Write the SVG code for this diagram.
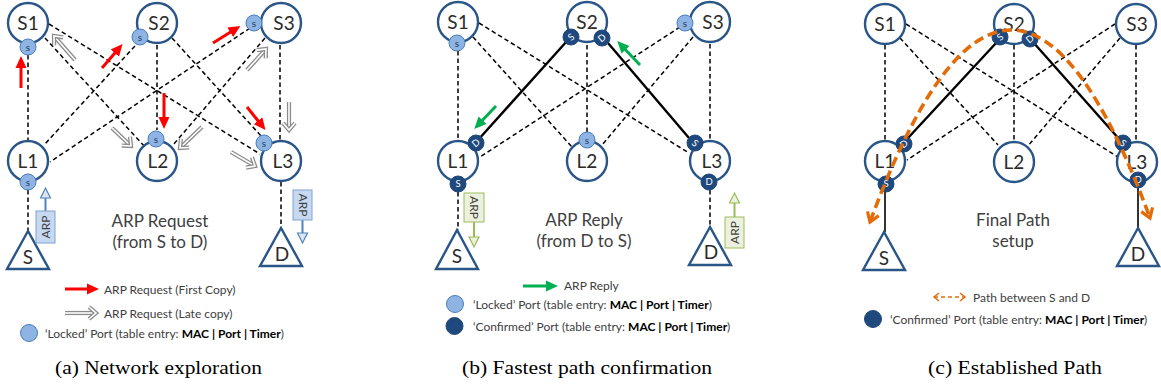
<svg xmlns="http://www.w3.org/2000/svg" width="1161" height="388" viewBox="0 0 1161 388">
  <style>
    .node circle.sw { fill: #fff; stroke: #2a5587; stroke-width: 2.4; }
    .tri { fill: #fff; stroke: #2a5587; stroke-width: 2.4; stroke-linejoin: miter; }
    .nl { font-family: Lato, "Open Sans", sans-serif; font-size: 19px; fill: #2b2b2b; text-anchor: middle; }
    .dash { fill: none; stroke: #000; stroke-width: 1.5; stroke-dasharray: 4.5 3; }
    .solid { fill: none; stroke: #000; stroke-width: 2.4; }
    .thin { fill: none; stroke: #000; stroke-width: 1.6; }
    .pl { fill: #8db4e2; stroke: #4a7ebb; stroke-width: 1; }
    .pd { fill: #1f497d; stroke: #1f497d; stroke-width: 1; }
    .plt { font-family: Lato, sans-serif; font-size: 10px; fill: #1f3a5f; text-anchor: middle; }
    .pdt { font-family: Lato, sans-serif; font-size: 9.5px; fill: #fff; text-anchor: middle; }
    .cap { font-family: Lato, "Open Sans", sans-serif; font-size: 17px; fill: #404040; text-anchor: middle; }
    .leg { font-family: Lato, "Open Sans", sans-serif; font-size: 12px; fill: #404040; }
    .leg tspan.b { font-weight: bold; fill: #000; }
    .red { fill: none; stroke: #ff0000; stroke-width: 3; marker-end: url(#hRed); }
    .grn { fill: none; stroke: #00b050; stroke-width: 3; marker-end: url(#hGrn); }
    .go { fill: none; stroke: #8c8c8c; stroke-width: 4.2; }
    .gi { fill: none; stroke: #fff; stroke-width: 1.6; marker-end: url(#hGray); }
    .bbox { fill: #c6d9f1; stroke: #7fa3d0; stroke-width: 1; }
    .bar { fill: none; stroke: #4f81bd; stroke-width: 2; }
    .bhd { fill: #dbe5f1; stroke: #4f81bd; stroke-width: 1.2; }
    .gbox { fill: #ebf1de; stroke: #9bbb59; stroke-width: 1; }
    .gar { fill: none; stroke: #9bbb59; stroke-width: 2; }
    .ghd { fill: #ebf1de; stroke: #9bbb59; stroke-width: 1.2; }
    .arp { font-family: Lato, sans-serif; font-size: 12px; fill: #404040; text-anchor: middle; }
    .orng { fill: none; stroke: #e36c09; stroke-width: 3.6; stroke-dasharray: 10 5; marker-start: url(#hOrS); marker-end: url(#hOr); }
    .orl { fill: none; stroke: #e36c09; stroke-width: 1.5; stroke-dasharray: 4 3; marker-start: url(#hOrLS); marker-end: url(#hOrL); }
    .fig { font-family: "Liberation Serif", "Times New Roman", serif; font-size: 19px; fill: #000; }
  </style>
  <defs>
    <marker id="hRed" markerUnits="userSpaceOnUse" markerWidth="13" markerHeight="13" viewBox="0 0 13 13" refX="8" refY="6.5" orient="auto">
      <path d="M0,1 L12,6.5 L0,12 Z" fill="#ff0000"/>
    </marker>
    <marker id="hGrn" markerUnits="userSpaceOnUse" markerWidth="13" markerHeight="13" viewBox="0 0 13 13" refX="8" refY="6.5" orient="auto">
      <path d="M0,1 L12,6.5 L0,12 Z" fill="#00b050"/>
    </marker>
    <marker id="hGray" markerUnits="userSpaceOnUse" markerWidth="16" markerHeight="16" viewBox="0 0 16 16" refX="12" refY="8" orient="auto">
      <path d="M5,2 L12,8 L5,14" fill="none" stroke="#8c8c8c" stroke-width="4.2"/>
      <path d="M5,2 L12,8 L5,14" fill="none" stroke="#fff" stroke-width="1.6"/>
    </marker>
    <marker id="hOr" markerUnits="userSpaceOnUse" markerWidth="16" markerHeight="16" viewBox="0 0 16 16" refX="12" refY="8" orient="auto">
      <path d="M3,2 L12,8 L3,14" fill="none" stroke="#e36c09" stroke-width="3.2"/>
    </marker>
    <marker id="hOrS" markerUnits="userSpaceOnUse" markerWidth="16" markerHeight="16" viewBox="0 0 16 16" refX="12" refY="8" orient="auto-start-reverse">
      <path d="M3,2 L12,8 L3,14" fill="none" stroke="#e36c09" stroke-width="3.2"/>
    </marker>
    <marker id="hOrL" markerUnits="userSpaceOnUse" markerWidth="10" markerHeight="10" viewBox="0 0 10 10" refX="8" refY="5" orient="auto">
      <path d="M3,1 L8,5 L3,9" fill="none" stroke="#e36c09" stroke-width="1.5"/>
    </marker>
    <marker id="hOrLS" markerUnits="userSpaceOnUse" markerWidth="10" markerHeight="10" viewBox="0 0 10 10" refX="8" refY="5" orient="auto-start-reverse">
      <path d="M3,1 L8,5 L3,9" fill="none" stroke="#e36c09" stroke-width="1.5"/>
    </marker>
  </defs>

  <!-- ===================== (a) Network exploration ===================== -->
  <g id="panel-a">
    <g id="a-links">
      <path class="dash" d="M28,55 V140"/>
      <path class="dash" d="M45,38 L145,147"/>
      <path class="dash" d="M49,24 L260,154"/>
      <path class="dash" d="M135,46 L44,145"/>
      <path class="dash" d="M157,45 V130"/>
      <path class="dash" d="M172,38 L262,137"/>
      <path class="dash" d="M250,28 L50,162"/>
      <path class="dash" d="M265,38 L173,145"/>
      <path class="dash" d="M280,45 V140"/>
      <path class="dash" d="M28,190 V231"/>
      <path class="dash" d="M281,182 V228"/>
    </g>
    <g id="a-S1" class="node"><circle class="sw" cx="28" cy="23" r="20"/><text class="nl" x="28" y="30">S1</text></g>
    <g id="a-S2" class="node"><circle class="sw" cx="157" cy="23" r="20"/><text class="nl" x="159" y="30">S2</text></g>
    <g id="a-S3" class="node"><circle class="sw" cx="281" cy="23" r="20"/><text class="nl" x="284" y="30">S3</text></g>
    <g id="a-L1" class="node"><circle class="sw" cx="28" cy="161" r="20"/><text class="nl" x="28" y="168">L1</text></g>
    <g id="a-L2" class="node"><circle class="sw" cx="157" cy="161" r="20"/><text class="nl" x="158" y="168">L2</text></g>
    <g id="a-L3" class="node"><circle class="sw" cx="281" cy="161" r="20"/><text class="nl" x="283" y="168">L3</text></g>
    <g id="a-S" class="node"><path class="tri" d="M28,231 L7,269 L49,269 Z"/><text class="nl" x="28" y="264">S</text></g>
    <g id="a-D" class="node"><path class="tri" d="M281,228 L260,266 L302,266 Z"/><text class="nl" x="282" y="261">D</text></g>
    <g id="a-ports">
      <circle class="pl" cx="28" cy="47" r="8"/><text class="plt" x="28" y="50.5">s</text>
      <circle class="pl" cx="140" cy="37" r="8"/><text class="plt" x="140" y="40.5">s</text>
      <circle class="pl" cx="254" cy="23" r="8"/><text class="plt" x="254" y="26.5">s</text>
      <circle class="pl" cx="28" cy="182" r="8"/><text class="plt" x="28" y="185.5">s</text>
      <circle class="pl" cx="156" cy="139" r="8"/><text class="plt" x="156" y="142.5">s</text>
      <circle class="pl" cx="264" cy="143" r="8"/><text class="plt" x="264" y="146.5">s</text>
    </g>
    <g id="a-flow">
      <path class="red" d="M21,88 L21,60"/>
      <path class="red" d="M102,68 L120,47"/>
      <path class="red" d="M213,43 L237,28"/>
      <path class="red" d="M164,93 L164,125"/>
      <path class="red" d="M247,107 L263,127"/>
      <path class="go" d="M75,60 L54,36"/><path class="gi" d="M75,60 L54,36"/>
      <path class="go" d="M112,128 L131,146"/><path class="gi" d="M112,128 L131,146"/>
      <path class="go" d="M202,127 L180,148"/><path class="gi" d="M202,127 L180,148"/>
      <path class="go" d="M247,70 L266,49"/><path class="gi" d="M247,70 L266,49"/>
      <path class="go" d="M231,152 L255,166"/><path class="gi" d="M231,152 L255,166"/>
      <path class="go" d="M289,102 L289,130"/><path class="gi" d="M289,102 L289,130"/>
    </g>
    <g id="a-arp-up">
      <path class="bar" d="M45.5,211 V197"/>
      <path class="bhd" d="M40.5,198 L45.5,188 L50.5,198 Z"/>
      <rect class="bbox" x="36" y="211" width="19" height="32"/>
      <text class="arp" transform="translate(49.5,227) rotate(-90)">ARP</text>
    </g>
    <g id="a-arp-down">
      <path class="bar" d="M302.5,220 V234"/>
      <path class="bhd" d="M297.5,233 L302.5,243 L307.5,233 Z"/>
      <rect class="bbox" x="293" y="190" width="19" height="30"/>
      <text class="arp" transform="translate(298.5,205) rotate(90)">ARP</text>
    </g>
    <text class="cap" x="160" y="226.5">ARP Request</text>
    <text class="cap" x="160" y="247.5">(from S to D)</text>
    <g id="a-legend">
      <path class="red" d="M65,289 L95,289"/>
      <text class="leg" x="104" y="293.5">ARP Request (First Copy)</text>
      <path class="go" d="M65,313 L96,313"/><path class="gi" d="M65,313 L96,313"/>
      <text class="leg" x="104" y="317.5">ARP Request (Late copy)</text>
      <circle class="pl" cx="29" cy="333" r="8.5"/>
      <text class="leg" x="45" y="337.5">‘Locked’ Port (table entry: <tspan class="b">MAC | Port | Timer</tspan>)</text>
    </g>
  </g>

  <!-- ===================== (b) Fastest path confirmation ===================== -->
  <g id="panel-b" transform="translate(430,0)">
    <g id="b-links">
      <path class="dash" d="M28,51 V140"/>
      <path class="dash" d="M43,37 L142,147"/>
      <path class="dash" d="M49,23 L259,153"/>
      <path class="solid" d="M137,41 L48,140"/>
      <path class="dash" d="M157,45 V132"/>
      <path class="solid" d="M178,43 L259,138"/>
      <path class="dash" d="M250,27 L50,157"/>
      <path class="dash" d="M263,37 L172,145"/>
      <path class="dash" d="M280,44 V140"/>
      <path class="dash" d="M28,192 V230"/>
      <path class="dash" d="M280,190 V227"/>
    </g>
    <g id="b-S1" class="node"><circle class="sw" cx="28" cy="22" r="20"/><text class="nl" x="28" y="29">S1</text></g>
    <g id="b-S2" class="node"><circle class="sw" cx="157" cy="22" r="20"/><text class="nl" x="157" y="29">S2</text></g>
    <g id="b-S3" class="node"><circle class="sw" cx="280" cy="22" r="20"/><text class="nl" x="283" y="29">S3</text></g>
    <g id="b-L1" class="node"><circle class="sw" cx="28" cy="161" r="20"/><text class="nl" x="28" y="168">L1</text></g>
    <g id="b-L2" class="node"><circle class="sw" cx="157" cy="161" r="20"/><text class="nl" x="157" y="168">L2</text></g>
    <g id="b-L3" class="node"><circle class="sw" cx="280" cy="161" r="20"/><text class="nl" x="282" y="168">L3</text></g>
    <g id="b-S" class="node"><path class="tri" d="M27,230 L6,269 L48,269 Z"/><text class="nl" x="27" y="263">S</text></g>
    <g id="b-D" class="node"><path class="tri" d="M280,227 L259,265 L301,265 Z"/><text class="nl" x="281" y="259">D</text></g>
    <g id="b-ports">
      <circle class="pl" cx="27" cy="43" r="8"/><text class="plt" x="27" y="46.5">s</text>
      <circle class="pl" cx="255" cy="23" r="8"/><text class="plt" x="255" y="26.5">s</text>
      <circle class="pl" cx="157" cy="140" r="8"/><text class="plt" x="157" y="143.5">s</text>
      <circle class="pd" cx="141" cy="37" r="8"/><text class="pdt" transform="translate(141,37) rotate(-40)" y="3.3">S</text>
      <circle class="pd" cx="172" cy="38" r="8"/><text class="pdt" transform="translate(172,38) rotate(-40)" y="3.3">D</text>
      <circle class="pd" cx="46" cy="143" r="8"/><text class="pdt" transform="translate(46,143) rotate(-40)" y="3.3">D</text>
      <circle class="pd" cx="28" cy="184" r="8"/><text class="pdt" x="28" y="187.3">S</text>
      <circle class="pd" cx="265" cy="143" r="8"/><text class="pdt" transform="translate(265,143) rotate(40)" y="3.3">S</text>
      <circle class="pd" cx="279" cy="182" r="8"/><text class="pdt" x="279" y="185.3">D</text>
    </g>
    <g id="b-flow">
      <path class="grn" d="M210,65 L190,44"/>
      <path class="grn" d="M66,106 L47,126"/>
    </g>
    <g id="b-arp-down">
      <path class="gar" d="M44,222 V238"/>
      <path class="ghd" d="M39,237 L44,247 L49,237 Z"/>
      <rect class="gbox" x="34" y="193" width="20" height="29"/>
      <text class="arp" transform="translate(40,207.5) rotate(90)">ARP</text>
    </g>
    <g id="b-arp-up">
      <path class="gar" d="M304.5,217 V202"/>
      <path class="ghd" d="M299.5,203 L304.5,193 L309.5,203 Z"/>
      <rect class="gbox" x="295" y="217" width="19" height="31"/>
      <text class="arp" transform="translate(308.5,232.5) rotate(-90)">ARP</text>
    </g>
    <text class="cap" x="154" y="226">ARP Reply</text>
    <text class="cap" x="154" y="247">(from D to S)</text>
    <g id="b-legend">
      <path class="grn" d="M93,286 L124,286"/>
      <text class="leg" x="134" y="290">ARP Reply</text>
      <circle class="pl" cx="25" cy="304" r="8.5"/>
      <text class="leg" x="43" y="308.5">‘Locked’ Port (table entry: <tspan class="b">MAC | Port | Timer</tspan>)</text>
      <circle class="pd" cx="24.5" cy="326" r="8.5"/>
      <text class="leg" x="43" y="330.5">‘Confirmed’ Port (table entry: <tspan class="b">MAC | Port | Timer</tspan>)</text>
    </g>
  </g>

  <!-- ===================== (c) Established Path ===================== -->
  <g id="panel-c" transform="translate(856,0)">
    <g id="c-links">
      <path class="dash" d="M29,45 V140"/>
      <path class="dash" d="M44,38 L142,145"/>
      <path class="dash" d="M50,24 L262,157"/>
      <path class="solid" d="M141,42 L52,138"/>
      <path class="dash" d="M158,45 V141"/>
      <path class="solid" d="M177,42 L264,140"/>
      <path class="dash" d="M259,24 L51,160"/>
      <path class="dash" d="M264,38 L171,147"/>
      <path class="dash" d="M280,45 V141"/>
      <path class="thin" d="M29,190 V232"/>
      <path class="thin" d="M282,188 V228"/>
    </g>
    <g id="c-S1" class="node"><circle class="sw" cx="29" cy="24" r="20"/><text class="nl" x="29" y="31">S1</text></g>
    <g id="c-S2" class="node"><circle class="sw" cx="158" cy="24" r="20"/><text class="nl" x="158" y="31">S2</text></g>
    <g id="c-S3" class="node"><circle class="sw" cx="280" cy="24" r="20"/><text class="nl" x="281" y="31">S3</text></g>
    <g id="c-L1" class="node"><circle class="sw" cx="29" cy="161" r="20"/><text class="nl" x="29" y="168">L1</text></g>
    <g id="c-L2" class="node"><circle class="sw" cx="158" cy="162" r="20"/><text class="nl" x="158" y="169">L2</text></g>
    <g id="c-L3" class="node"><circle class="sw" cx="281" cy="162" r="20"/><text class="nl" x="281" y="169">L3</text></g>
    <g id="c-S" class="node"><path class="tri" d="M28,232 L7,270 L49,270 Z"/><text class="nl" x="28" y="265">S</text></g>
    <g id="c-D" class="node"><path class="tri" d="M282,228 L261,266 L303,266 Z"/><text class="nl" x="282" y="261">D</text></g>
    <g id="c-ports">
      <circle class="pd" cx="144" cy="37" r="8"/><text class="pdt" transform="translate(144,37) rotate(-40)" y="3.3">S</text>
      <circle class="pd" cx="174" cy="39" r="8"/><text class="pdt" transform="translate(174,39) rotate(-40)" y="3.3">D</text>
      <circle class="pd" cx="48" cy="144" r="8"/><text class="pdt" transform="translate(48,144) rotate(-40)" y="3.3">D</text>
      <circle class="pd" cx="30" cy="184" r="8"/><text class="pdt" x="30" y="187.3">S</text>
      <circle class="pd" cx="267" cy="143" r="8"/><text class="pdt" transform="translate(267,143) rotate(40)" y="3.3">S</text>
      <circle class="pd" cx="282" cy="180" r="8"/><text class="pdt" x="282" y="183.3">D</text>
    </g>
    <g id="c-route">
      <path class="orng" d="M14,222 Q155,-160 294,218"/>
    </g>
    <text class="cap" x="157" y="226">Final Path</text>
    <text class="cap" x="157" y="247">setup</text>
    <g id="c-legend">
      <path class="orl" d="M78,297 L109,297"/>
      <text class="leg" x="117" y="301.5">Path between S and D</text>
      <circle class="pd" cx="17" cy="319" r="8.5"/>
      <text class="leg" x="34" y="323.5">‘Confirmed’ Port (table entry: <tspan class="b">MAC | Port | Timer</tspan>)</text>
    </g>
  </g>

  <!-- sub-figure captions -->
  <text class="fig" x="55" y="374" textLength="207" lengthAdjust="spacingAndGlyphs">(a) Network exploration</text>
  <text class="fig" x="462" y="374" textLength="250" lengthAdjust="spacingAndGlyphs">(b) Fastest path confirmation</text>
  <text class="fig" x="928" y="374" textLength="174" lengthAdjust="spacingAndGlyphs">(c) Established Path</text>
</svg>
